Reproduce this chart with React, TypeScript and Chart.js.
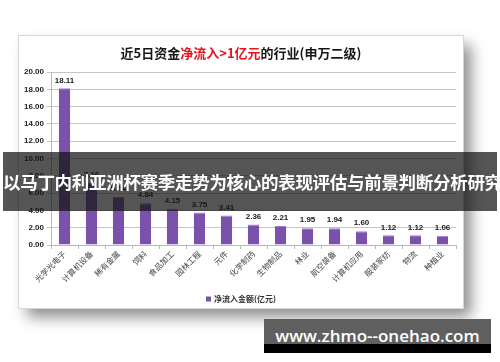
import React, { useEffect, useRef } from 'react';
import { Chart, registerables } from 'chart.js';

Chart.register(...registerables);

const categories = ['光学光电子', '计算机设备', '稀有金属', '饲料', '食品加工', '园林工程', '元件', '化学制药', '生物制品', '林业', '航空装备', '计算机应用', '服装家纺', '物流', '种植业'];
const values = [18.11, 7.16, 5.54, 4.84, 4.15, 3.75, 3.41, 2.36, 2.21, 1.95, 1.94, 1.6, 1.12, 1.12, 1.06];
const seriesName = '净流入金额(亿元)';
const titleParts = [
  { text: '近5日资金', color: '#151515' },
  { text: '净流入>1亿元', color: '#e3161d' },
  { text: '的行业(申万二级)', color: '#151515' },
];
const yMin = 0;
const yMax = 20;
const yStep = 2;
const bannerText = '以马丁内利亚洲杯赛季走势为核心的表现评估与前景判断分析研究';
const siteText = 'www.zhmo--onehao.com';

const CJK = "'Noto Sans CJK SC', 'Noto Sans', sans-serif";
const NUM = "'Liberation Sans', Arial, sans-serif";
const BAR = '#7a52ab';

const overlayPlugin = {
  id: 'overlay',
  afterDatasetsDraw(chart: any) {
    const ctx = chart.ctx;
    const meta = chart.getDatasetMeta(0);
    ctx.save();
    ctx.font = `bold 8px ${NUM}`;
    ctx.fillStyle = '#1a1a1a';
    ctx.textAlign = 'center';
    ctx.textBaseline = 'bottom';
    meta.data.forEach((el: any, i: number) => {
      ctx.fillText(values[i].toFixed(2), el.x, el.y - 4);
    });
    ctx.restore();
  },
  afterDraw(chart: any) {
    const ctx = chart.ctx;
    const w = chart.width;
    ctx.save();
    // title
    ctx.font = `bold 13px ${CJK}`;
    ctx.textBaseline = 'middle';
    const total = titleParts.reduce((s, p) => s + ctx.measureText(p.text).width, 0);
    let x = w / 2 - total / 2;
    titleParts.forEach((p) => {
      ctx.fillStyle = p.color;
      ctx.textAlign = 'left';
      ctx.fillText(p.text, x, 17);
      x += ctx.measureText(p.text).width;
    });
    // legend
    ctx.font = `bold 8px ${CJK}`;
    const tw = ctx.measureText(seriesName).width;
    const lx = w / 2 - (tw + 8) / 2;
    const ly = 263;
    ctx.fillStyle = BAR;
    ctx.fillRect(lx, ly - 2.5, 5, 5);
    ctx.fillStyle = '#333';
    ctx.textAlign = 'left';
    ctx.fillText(seriesName, lx + 8, ly);
    ctx.restore();
  },
};

function ChartCard() {
  const ref = useRef<HTMLCanvasElement | null>(null);
  useEffect(() => {
    if (!ref.current) return;
    const chart = new Chart(ref.current, {
      type: 'bar',
      data: {
        labels: categories,
        datasets: [
          {
            label: seriesName,
            data: values,
            backgroundColor: BAR,
            borderColor: '#9c7fcc',
            borderWidth: { top: 1, left: 0, right: 0, bottom: 0 } as any,
            barPercentage: 0.42,
            categoryPercentage: 1,
          },
        ],
      },
      options: {
        responsive: false,
        animation: false,
        layout: { padding: { left: 0, right: 7, top: 36, bottom: 0 } },
        plugins: { legend: { display: false }, title: { display: false }, tooltip: { enabled: false } },
        scales: {
          x: {
            grid: { display: true, drawOnChartArea: false, tickLength: 4, color: '#b8b8b8', offset: true },
            border: { display: true, color: '#b8b8b8' },
            ticks: {
              minRotation: 45,
              maxRotation: 45,
              autoSkip: false,
              padding: 0,
              color: '#444',
              font: { family: CJK, size: 8 },
            },
            afterFit: (s: any) => {
              s.height = 63;
            },
          },
          y: {
            min: yMin,
            max: yMax,
            grid: { color: '#c4c4c4', tickLength: 4 },
            border: { display: true, color: '#b8b8b8' },
            ticks: {
              stepSize: yStep,
              padding: 3,
              color: '#222',
              font: { family: NUM, size: 8, weight: 'bold' },
              callback: (v: any) => Number(v).toFixed(2),
            },
            afterFit: (s: any) => {
              s.width = 32;
            },
          },
        },
      },
      plugins: [overlayPlugin],
    });
    return () => chart.destroy();
  }, []);
  return <canvas ref={ref} width={444} height={272} style={{ display: 'block' }} />;
}

export default function App() {
  return (
    <div style={{ position: 'fixed', left: 0, top: 0, width: 500, height: 362, background: '#fff', overflow: 'hidden' }}>
      <div
        style={{
          position: 'absolute',
          left: 19,
          top: 36,
          width: 444,
          height: 272,
          background: '#fff',
          boxShadow: '0 0 0 1px #d6d6d6, 8px 9px 14px rgba(0,0,0,0.45)',
        }}
      >
        <ChartCard />
      </div>
      <div
        style={{
          position: 'absolute',
          left: 3,
          top: 152,
          width: 494,
          height: 59,
          background: 'rgba(20,20,20,0.72)',
          color: '#fff',
          fontFamily: CJK,
          fontWeight: 'bold',
          fontSize: 17.5,
          lineHeight: '59px',
          textAlign: 'center',
          whiteSpace: 'nowrap',
          letterSpacing: -0.3,
        }}
      >
        {bannerText}
      </div>
      <div style={{ position: 'absolute', left: 264, top: 319, width: 227, height: 34, background: '#000' }}>
        <div
          style={{
            height: 25,
            background: '#5f5f5f',
            color: '#fff',
            fontFamily: "'Open Sans', 'DejaVu Sans', sans-serif",
            fontWeight: 600,
            fontSize: 17,
            lineHeight: '34px',
            textAlign: 'center',
            whiteSpace: 'nowrap',
            overflow: 'visible',
          }}
        >
          {siteText}
        </div>
      </div>
    </div>
  );
}
